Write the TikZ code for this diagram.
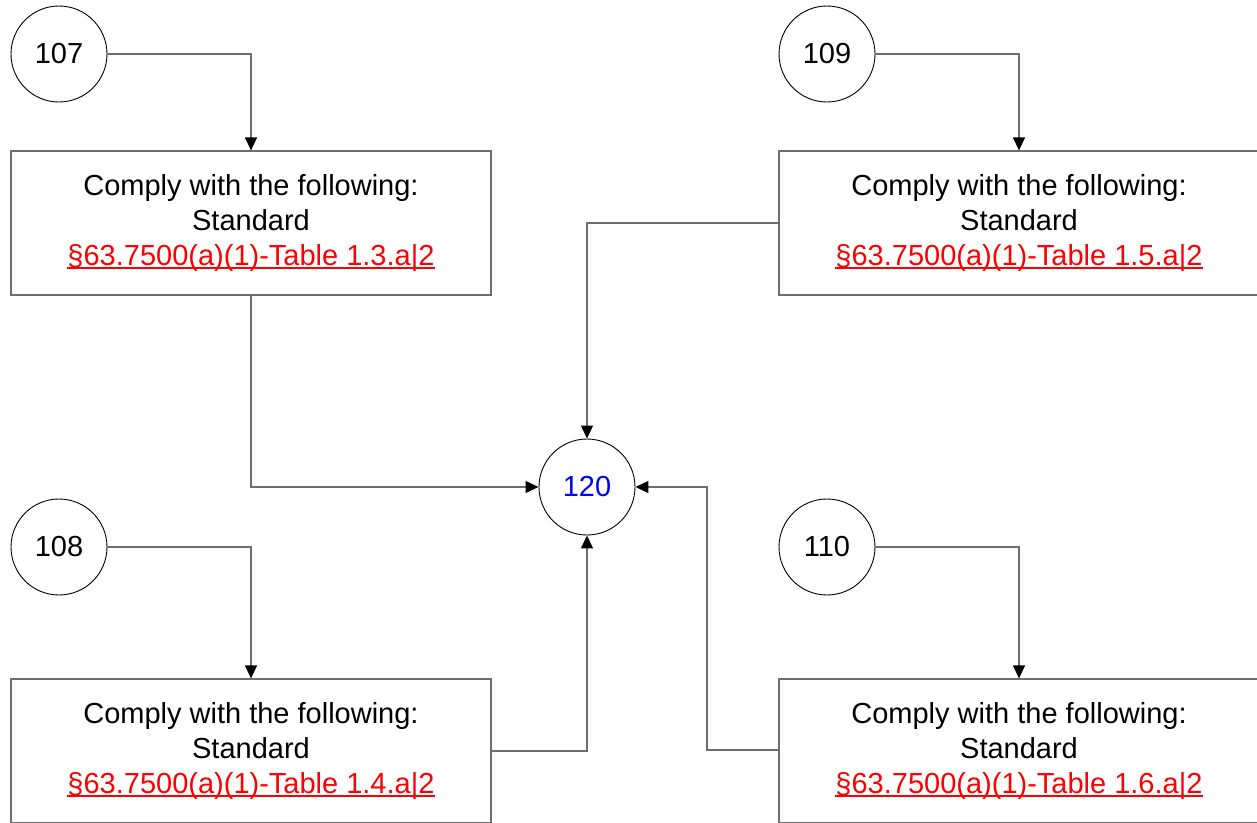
\documentclass[tikz,border=0pt]{standalone}
\usepackage{fontspec}
\setmainfont{Liberation Sans}
\usetikzlibrary{arrows.meta}
\definecolor{linegray}{RGB}{110,110,110}
\definecolor{linkred}{RGB}{255,0,0}
\definecolor{numblue}{RGB}{0,0,255}
\tikzset{
  every node/.style={font=\fontsize{29}{35}\selectfont},
  circ/.style={draw=black, line width=0.9pt, circle, minimum size=96pt, inner sep=0pt},
  stepbox/.style={draw=linegray, line width=1.2pt, rectangle, minimum width=480pt, minimum height=144pt, inner sep=0pt, align=center},
  conn/.style={draw=linegray, line width=1.2pt, -{Triangle[length=13pt,width=12pt,fill=black,color=black]}},
}
\newsavebox{\lnkbox}
\newcommand{\lnk}[1]{\sbox{\lnkbox}{\color{linkred}#1}{\color{linkred}\rlap{\rule[-3.5pt]{\wd\lnkbox}{1.6pt}}}\usebox{\lnkbox}}
\begin{document}
\begin{tikzpicture}[x=1pt,y=-1pt]
\useasboundingbox (0,0) rectangle (1257,822);
\node[circ] (c107) at (59,54) {107};
\node[circ] (c109) at (827,54) {109};
\node[circ] (c108) at (59,547) {108};
\node[circ] (c110) at (827,547) {110};
\node[circ, text=numblue] (c120) at (587,487) {120};
\node[stepbox] (b1) at (251,223) {Comply with the following:\\Standard\\\lnk{§63.7500(a)(1)-Table 1.3.a|2}};
\node[stepbox] (b2) at (1019,223) {Comply with the following:\\Standard\\\lnk{§63.7500(a)(1)-Table 1.5.a|2}};
\node[stepbox] (b3) at (251,751) {Comply with the following:\\Standard\\\lnk{§63.7500(a)(1)-Table 1.4.a|2}};
\node[stepbox] (b4) at (1019,751) {Comply with the following:\\Standard\\\lnk{§63.7500(a)(1)-Table 1.6.a|2}};
\draw[conn] (c107.east) -| (b1.north);
\draw[conn] (c109.east) -| (b2.north);
\draw[conn] (c108.east) -| (b3.north);
\draw[conn] (c110.east) -| (b4.north);
\draw[conn] (b1.south) |- (c120.west);
\draw[conn] (b2.west) -| (c120.north);
\draw[conn] (b3.east) -| (c120.south);
\coordinate (k) at (707,750);
\draw[conn] (b4.west |- k) -- (k) |- (c120.east);
\end{tikzpicture}
\end{document}
